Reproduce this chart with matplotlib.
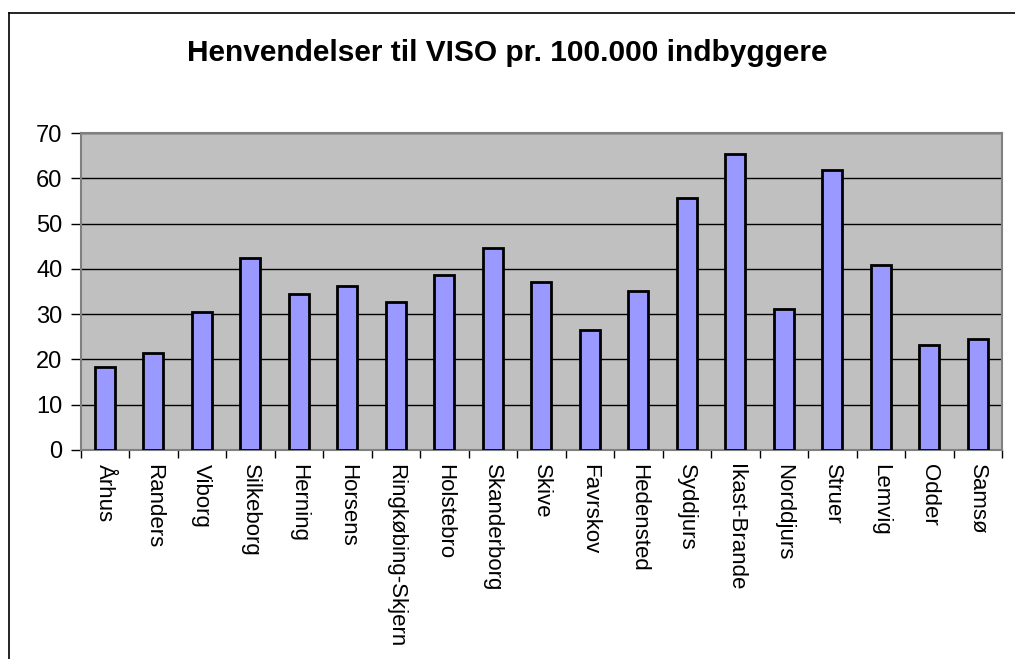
import matplotlib
matplotlib.use("Agg")
import matplotlib.pyplot as plt
from matplotlib.lines import Line2D
import numpy as np

categories = ["Århus", "Randers", "Viborg", "Silkeborg", "Herning", "Horsens",
              "Ringkøbing-Skjern", "Holstebro", "Skanderborg", "Skive", "Favrskov",
              "Hedensted", "Syddjurs", "Ikast-Brande", "Norddjurs", "Struer",
              "Lemvig", "Odder", "Samsø"]
values = [18.4, 21.4, 30.4, 42.4, 34.4, 36.3, 32.7, 38.7, 44.6, 37.2, 26.4,
          35.1, 55.7, 65.3, 31.1, 61.8, 40.8, 23.2, 24.5]
yticks = [0, 10, 20, 30, 40, 50, 60, 70]
title = "Henvendelser til VISO pr. 100.000 indbyggere"

plt.rcParams['font.family'] = ['Liberation Sans', 'DejaVu Sans']

W, H = 1015, 659
fig = plt.figure(figsize=(W / 100, H / 100), dpi=100)
ax = fig.add_axes([80.5 / W, 1 - 450 / H, (1002 - 80.5) / W, (450 - 133) / H])

x = np.arange(len(categories))
ax.set_facecolor("#C0C0C0")
ax.bar(x, values, width=0.42, color="#9999FF", edgecolor="black", linewidth=2, zorder=3)
ax.set_xlim(-0.5, len(categories) - 0.5)
ax.set_ylim(0, 70)
ax.set_yticks(yticks)
ax.set_yticklabels([str(v) for v in yticks], fontsize=17)
ax.yaxis.grid(True, color="black", linewidth=1, zorder=1)
ax.set_axisbelow(True)

ax.set_xticks(x)
ax.set_xticklabels(categories, rotation=270, fontsize=16, va="top", ha="center")
ax.tick_params(axis="x", length=0, pad=10)
ax.set_xticks(np.arange(len(categories) + 1) - 0.5, minor=True)
ax.tick_params(axis="x", which="minor", length=6, width=1, color="black", direction="out")
ax.tick_params(axis="y", length=7, width=1, color="black", direction="out", pad=6)

for s in ["top", "right", "left", "bottom"]:
    ax.spines[s].set_color("#808080")
    ax.spines[s].set_linewidth(1.5)

fig.text(0.5, 1 - 53 / H, title, ha="center", va="center", fontsize=21.5, fontweight="bold")

# outer chart border (top and left visible)
fig.add_artist(Line2D([9 / W, 9 / W], [0, 1 - 13 / H], color="black", linewidth=1.2, transform=fig.transFigure))
fig.add_artist(Line2D([9 / W, 1], [1 - 13 / H, 1 - 13 / H], color="black", linewidth=1.2, transform=fig.transFigure))

fig.savefig("out.png", dpi=100, facecolor="white")
